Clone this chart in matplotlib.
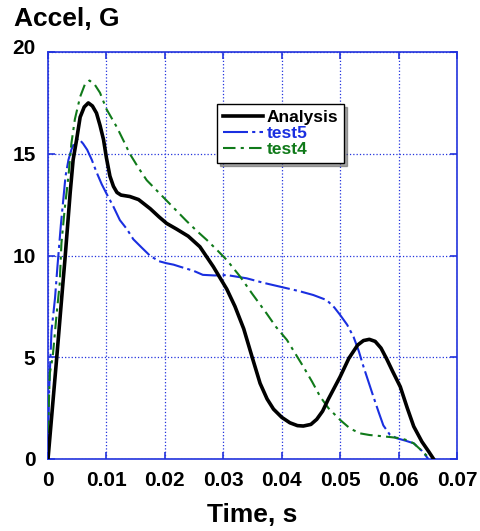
import numpy as np
import matplotlib
matplotlib.use("Agg")
import matplotlib.pyplot as plt

plt.rcParams["font.family"] = ["Liberation Sans", "DejaVu Sans"]
plt.rcParams["font.weight"] = "bold"

# Analysis curve (time s, accel G)
t_analysis = [0.0, 0.0015, 0.0026, 0.0029, 0.0038, 0.0043, 0.0049, 0.0055, 0.0062,
              0.0069, 0.0076, 0.0083, 0.0089, 0.0095, 0.0100, 0.0106, 0.0112, 0.0118,
              0.0125, 0.0140, 0.0155, 0.0175, 0.0190, 0.0203, 0.0220, 0.0240, 0.0260,
              0.0283, 0.0306, 0.0320, 0.0335, 0.0350, 0.0363, 0.0375, 0.0386, 0.0400,
              0.0414, 0.0427, 0.0437, 0.0450, 0.0460, 0.0470, 0.0480, 0.0500, 0.0515,
              0.0530, 0.0540, 0.0550, 0.0560, 0.0570, 0.0580, 0.0590, 0.0603, 0.0615,
              0.0626, 0.0640, 0.0652, 0.0660]
a_analysis = [0.0, 5.0, 8.8, 9.8, 13.1, 14.7, 15.7, 16.8, 17.3,
              17.5, 17.35, 17.0, 16.4, 15.7, 14.8, 13.9, 13.4, 13.1,
              12.97, 12.9, 12.75, 12.3, 11.9, 11.58, 11.3, 10.95, 10.43,
              9.45, 8.35, 7.5, 6.4, 4.95, 3.72, 2.95, 2.45, 2.05,
              1.78, 1.64, 1.62, 1.7, 1.95, 2.35, 2.95, 4.04, 4.95,
              5.6, 5.82, 5.88, 5.78, 5.45, 4.9, 4.3, 3.55, 2.5,
              1.6, 0.85, 0.35, 0.0]

# test5
t_test5 = [0.0, 0.0001, 0.0002, 0.0006, 0.0012, 0.0016, 0.0022, 0.0030, 0.0035,
           0.0040, 0.0046, 0.0052, 0.0060, 0.0067, 0.0075, 0.0083, 0.0092, 0.0100,
           0.0112, 0.0123, 0.0135, 0.0146, 0.0160, 0.0175, 0.0190, 0.0203, 0.0215,
           0.0226, 0.0249, 0.0265, 0.0285, 0.0306, 0.0340, 0.0370, 0.0397, 0.0430,
           0.0454, 0.0477, 0.0490, 0.0500, 0.0512, 0.0523, 0.0532, 0.0540, 0.0557,
           0.0566, 0.0574, 0.0585, 0.0597, 0.0612, 0.0626, 0.0640, 0.0651]
a_test5 = [0.0, 2.0, 3.4, 6.3, 7.9, 9.4, 11.5, 13.9, 14.7,
           15.2, 15.6, 15.76, 15.5, 15.2, 14.7, 14.1, 13.5, 13.05,
           12.4, 11.74, 11.3, 10.8, 10.4, 9.98, 9.72, 9.62, 9.55,
           9.45, 9.25, 9.05, 9.02, 9.04, 8.88, 8.65, 8.47, 8.25,
           8.06, 7.81, 7.45, 7.08, 6.6, 6.0, 5.3, 4.54, 3.06,
           2.3, 1.65, 1.2, 1.02, 0.9, 0.77, 0.4, 0.0]

# test4
t_test4 = [0.0, 0.0001, 0.0003, 0.0008, 0.0015, 0.0020, 0.0023, 0.0029, 0.0035,
           0.0040, 0.0046, 0.0055, 0.0063, 0.0071, 0.0080, 0.0089, 0.0100, 0.0118,
           0.0130, 0.0140, 0.0155, 0.0169, 0.0186, 0.0203, 0.0220, 0.0237, 0.0255,
           0.0272, 0.0290, 0.0306, 0.0329, 0.0350, 0.0374, 0.0390, 0.0409, 0.0425,
           0.0437, 0.0452, 0.0466, 0.0480, 0.0500, 0.0517, 0.0534, 0.0550, 0.0568,
           0.0585, 0.0603, 0.0615, 0.0626, 0.0640, 0.0654]
a_test4 = [0.0, 2.3, 4.2, 5.0, 7.2, 8.6, 10.6, 12.4, 13.9,
           15.5, 16.7, 17.8, 18.4, 18.6, 18.4, 18.0, 17.2, 16.3,
           15.6, 15.0, 14.3, 13.7, 13.2, 12.7, 12.2, 11.7, 11.2,
           10.76, 10.25, 9.78, 8.96, 8.1, 7.16, 6.5, 5.85, 5.1,
           4.54, 3.8, 3.06, 2.5, 1.92, 1.5, 1.26, 1.18, 1.13,
           1.08, 1.02, 0.92, 0.77, 0.4, 0.0]

x_ticks = [0, 0.01, 0.02, 0.03, 0.04, 0.05, 0.06, 0.07]
x_labels = ["0", "0.01", "0.02", "0.03", "0.04", "0.05", "0.06", "0.07"]
y_ticks = [0, 5, 10, 15, 20]

grid_blue = "#2233dd"
blue = "#1a2fe0"
green = "#107a1a"

fig = plt.figure(figsize=(4.8, 5.31), dpi=100)
ax = fig.add_axes([0.1, 0.1356, 0.852, 0.7664])

ax.plot(t_analysis, a_analysis, color="black", linewidth=2.6, label="Analysis",
        solid_joinstyle="round", zorder=4)
ax.plot(t_test5, a_test5, color=blue, linewidth=1.5,
        linestyle=(0, (12, 2, 1.5, 2)), label="test5", zorder=3)
ax.plot(t_test4, a_test4, color=green, linewidth=1.5,
        linestyle=(0, (6, 2.5, 1.5, 2.5)), label="test4", zorder=3)

ax.set_xlim(0, 0.07)
ax.set_ylim(0, 20)
ax.set_xticks(x_ticks)
ax.set_xticklabels(x_labels)
ax.set_yticks(y_ticks)
ax.set_yticklabels(["0", "5", "10", "15", ""])

ax.grid(True, color=grid_blue, linestyle=":", linewidth=0.9)
for s in ax.spines.values():
    s.set_color(grid_blue)
    s.set_linewidth(1.2)
ax.tick_params(direction="in", colors=grid_blue, length=5, width=1.2,
               top=True, right=True, labelsize=15, labelcolor="black", pad=9)
for lbl in ax.get_xticklabels() + ax.get_yticklabels():
    lbl.set_fontweight("bold")

fig.text(14 / 480, 1 - 19 / 531, "Accel, G", fontsize=19, fontweight="bold",
         va="center", ha="left")
fig.text(12 / 480, 1 - 48 / 531, "20", fontsize=15, fontweight="bold",
         va="center", ha="left")
fig.text(252 / 480, 1 - 515 / 531, "Time, s", fontsize=19, fontweight="bold",
         va="center", ha="center")

leg = ax.legend(loc="upper left", bbox_to_anchor=(0.413, 0.872), fontsize=12.5,
                frameon=True, fancybox=False, shadow=True, handlelength=2.3,
                handletextpad=0.2, borderpad=0.35, labelspacing=0.05,
                borderaxespad=0)
leg.get_frame().set_edgecolor("black")
leg.get_frame().set_linewidth(1.0)
for text, c in zip(leg.get_texts(), ["black", blue, green]):
    text.set_color(c)
    text.set_fontweight("bold")

fig.savefig("out.png", dpi=100)
